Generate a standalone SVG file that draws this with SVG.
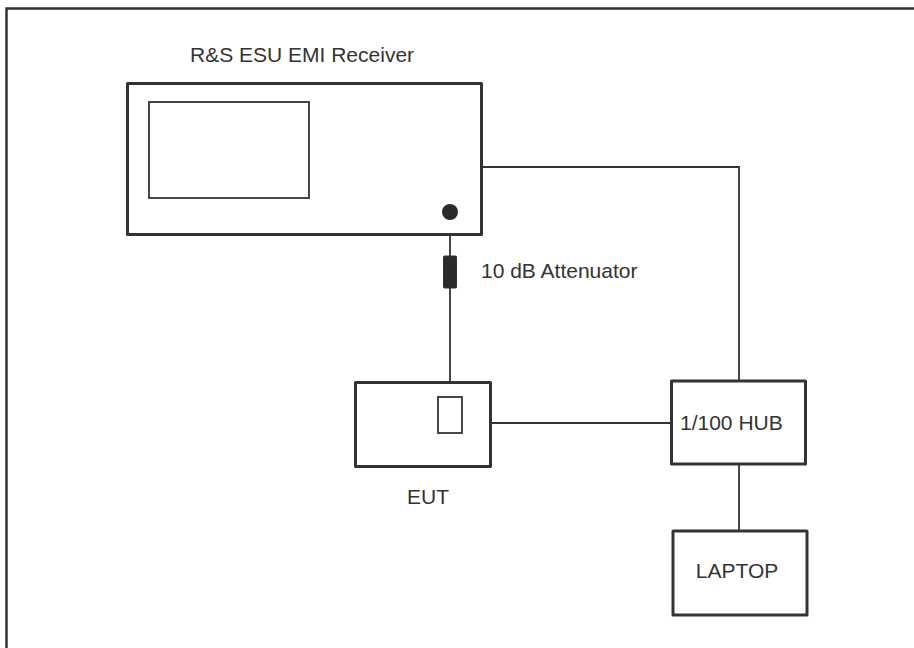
<svg xmlns="http://www.w3.org/2000/svg" width="914" height="648" viewBox="0 0 914 648">
<style>
.box{fill:#fff;stroke:#333;stroke-width:3;stroke-linejoin:round}
.thin{fill:#fff;stroke:#333;stroke-width:1.8}
.wire{fill:none;stroke:#333;stroke-width:1.8}
.lbl{font-family:"Liberation Sans",Arial,sans-serif;font-size:21px;fill:#333}
</style>
<rect width="914" height="648" fill="#fff"/>
<path d="M6.5,648 V8.5 H914" fill="none" stroke="#333" stroke-width="2.5"/>
<g id="connectors">
<polyline class="wire" points="482,167 739,167 739,381"/>
<line class="wire" x1="450" y1="212" x2="450" y2="397"/>
<line class="wire" x1="491" y1="423" x2="671" y2="423"/>
<line class="wire" x1="739" y1="464" x2="739" y2="531"/>
</g>
<g id="receiver">
<text class="lbl" x="190" y="62">R&amp;S ESU EMI Receiver</text>
<rect class="box" x="127.5" y="83.5" width="354" height="151"/>
<rect class="thin" x="149" y="102" width="160" height="96"/>
<circle cx="450" cy="212" r="8" fill="#2b2b2b"/>
</g>
<g id="attenuator">
<rect x="443.5" y="256" width="13" height="32" rx="1" fill="#2b2b2b" stroke="#333" stroke-width="1"/>
<text class="lbl" x="481" y="278">10 dB Attenuator</text>
</g>
<g id="eut">
<rect class="box" x="355.5" y="382.5" width="135" height="84"/>
<rect class="thin" x="438" y="397" width="24" height="36"/>
<text class="lbl" x="428" y="504" text-anchor="middle">EUT</text>
</g>
<g id="hub">
<rect class="box" x="671.5" y="381" width="134" height="83"/>
<text class="lbl" x="680" y="430">1/100 HUB</text>
</g>
<g id="laptop">
<rect class="box" x="673" y="531" width="134" height="84"/>
<text class="lbl" x="737" y="578" text-anchor="middle">LAPTOP</text>
</g>
</svg>
